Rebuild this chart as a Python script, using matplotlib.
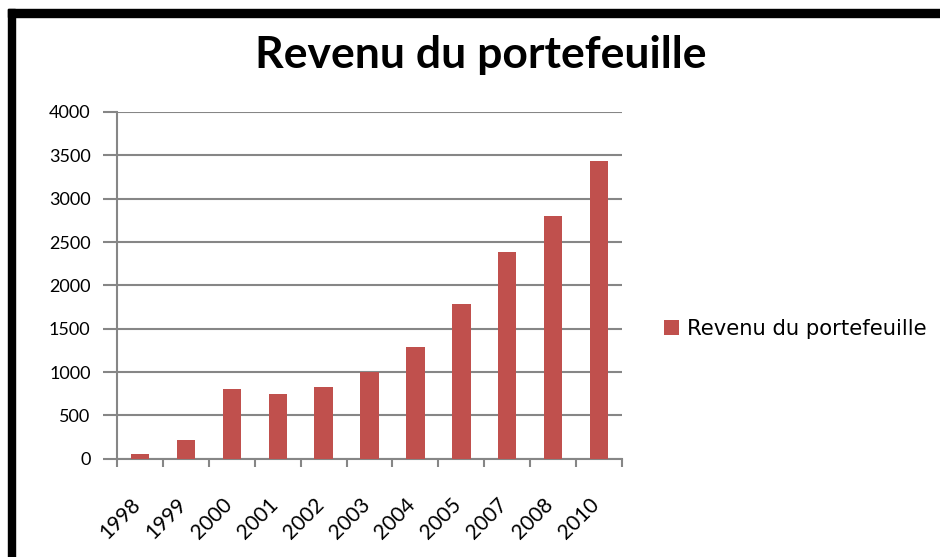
import matplotlib
matplotlib.use("Agg")
import matplotlib.pyplot as plt
import matplotlib.transforms as mtransforms
from matplotlib.patches import Rectangle

# data
years = ["1998", "1999", "2000", "2001", "2002", "2003",
         "2004", "2005", "2007", "2008", "2010"]
revenu = [50, 215, 805, 745, 830, 1000, 1290, 1790, 2385, 2795, 3435]
y_ticks = [0, 500, 1000, 1500, 2000, 2500, 3000, 3500, 4000]

W, H = 940, 557
bar_color = "#C0504D"
grid_color = "#868686"

plt.rcParams['font.family'] = ['Lato', 'DejaVu Sans']

fig = plt.figure(figsize=(W / 100, H / 100), dpi=100)
fig.patch.set_facecolor("white")

def px(x0, y0, x1, y1):
    """pixel box (top-left origin) -> figure fraction rect"""
    return [x0 / W, 1 - y1 / H, (x1 - x0) / W, (y1 - y0) / H]

ax = fig.add_axes(px(117, 112, 622, 458.7))

xpos = list(range(len(years)))
ax.bar(xpos, revenu, width=0.4, color=bar_color, label="Revenu du portefeuille",
       zorder=3)

ax.set_xlim(-0.5, len(years) - 0.5)
ax.set_ylim(0, 4000)
ax.set_yticks(y_ticks)
ax.set_yticklabels([str(v) for v in y_ticks], fontsize=13)
ax.yaxis.grid(True, color=grid_color, linewidth=1.5, zorder=0)

# category boundaries carry the tick marks, labels sit under the bars
ax.set_xticks([i - 0.5 for i in range(len(years) + 1)])
ax.set_xticklabels([])
ax.set_xticks(xpos, minor=True)
ax.set_xticklabels(years, minor=True, rotation=45, ha="right",
                   rotation_mode="anchor", fontsize=15)
ax.tick_params(axis="x", which="minor", length=0, pad=26)
ax.tick_params(axis="x", which="major", length=6, width=1.5, color=grid_color)
ax.tick_params(axis="y", length=10, width=1.5, color=grid_color, pad=9)
shift = mtransforms.ScaledTranslation(-10 / 100, 0, fig.dpi_scale_trans)
for lab in ax.get_xticklabels(minor=True):
    lab.set_transform(lab.get_transform() + shift)

for s in ["top", "right"]:
    ax.spines[s].set_visible(False)
for s in ["left", "bottom"]:
    ax.spines[s].set_color(grid_color)
    ax.spines[s].set_linewidth(1.5)

fig.text(481 / W, 1 - 55 / H, "Revenu du portefeuille", ha="center",
         va="center", fontsize=32, fontweight="bold")

leg = fig.legend(loc="center left", bbox_to_anchor=(645 / W, 1 - 329 / H),
                 frameon=False, handlelength=0.7, handleheight=0.7,
                 handletextpad=0.4, prop={"family": "DejaVu Sans", "size": 15.2})

# thick black frame at top and left, as in the screenshot
fig.patches.append(Rectangle((8 / W, 1 - 17 / H), 1, 8 / H,
                             transform=fig.transFigure, color="black"))
fig.patches.append(Rectangle((8 / W, 0), 7 / W, 1 - 9 / H,
                             transform=fig.transFigure, color="black"))

fig.savefig("out.png", dpi=100)
